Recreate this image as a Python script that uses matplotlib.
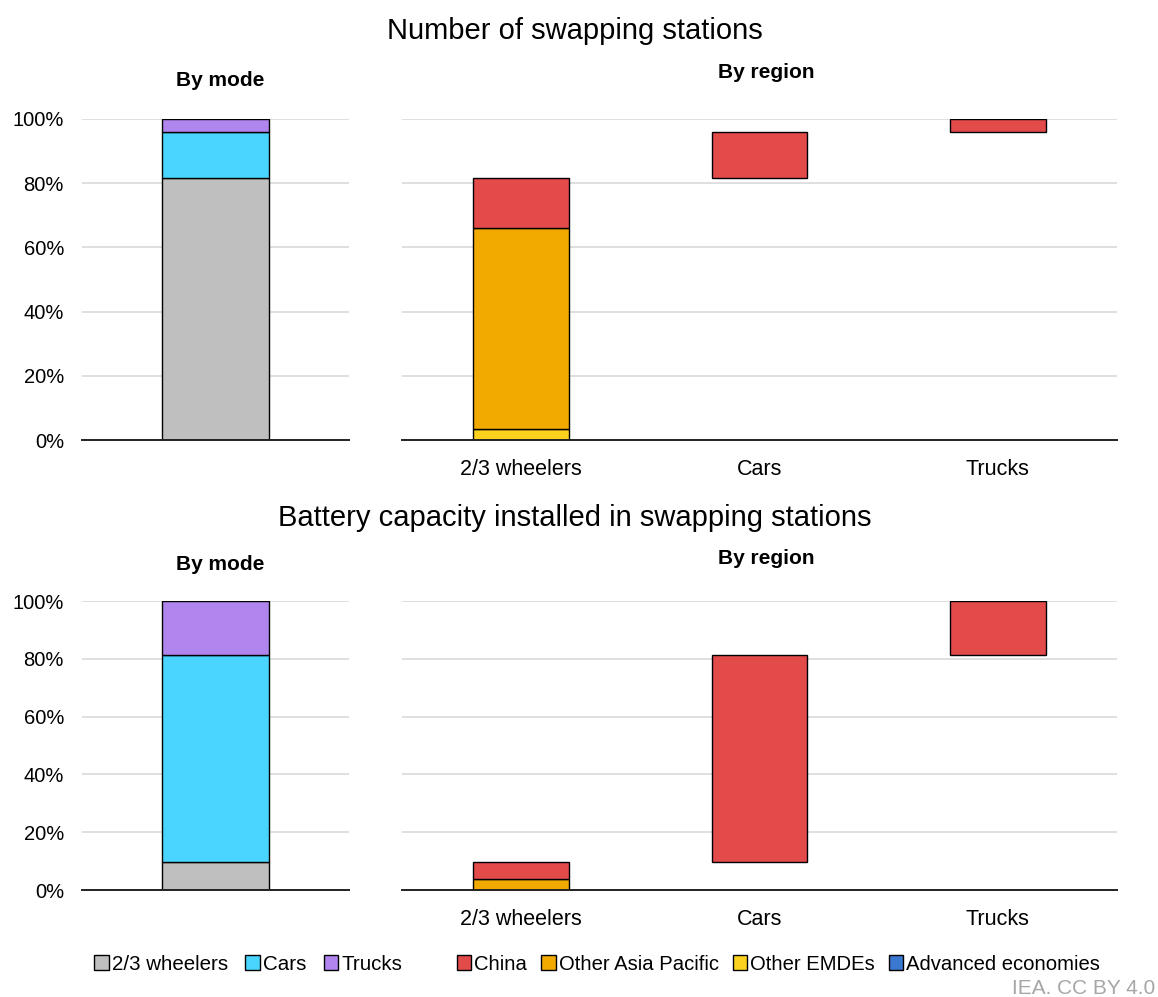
import numpy as np
import matplotlib.pyplot as plt
from matplotlib.patches import Patch
from matplotlib.ticker import PercentFormatter

plt.rcParams['font.family'] = ['Liberation Sans', 'DejaVu Sans']

# Data (shares in %)
modes = ["2/3 wheelers", "Cars", "Trucks"]
regions = ["Advanced economies", "Other EMDEs", "Other Asia Pacific", "China"]

stations_mode = [81.6, 14.5, 3.9]
stations_adv = [0.0, 0.0, 0.0]
stations_emde = [3.3, 0.0, 0.0]
stations_oap = [62.7, 0.0, 0.0]
stations_china = [15.6, 14.5, 3.9]

capacity_mode = [9.7, 71.6, 18.7]
capacity_adv = [0.0, 0.0, 0.0]
capacity_emde = [0.0, 0.0, 0.0]
capacity_oap = [3.7, 0.0, 0.0]
capacity_china = [6.0, 71.6, 18.7]

mode_colors = ["#BFBFBF", "#49D5FF", "#B185EE"]
region_colors = ["#3B78D0", "#FCD21E", "#F2A900", "#E34A4A"]

fig = plt.figure(figsize=(11.58, 9.97), dpi=100)
W, H = 1158, 997


def axes_px(x0, x1, ytop, ybot):
    return fig.add_axes([x0 / W, 1 - ybot / H, (x1 - x0) / W, (ybot - ytop) / H])


def style(ax, show_y):
    ax.set_ylim(0, 100)
    ax.set_yticks(np.arange(0, 101, 20))
    ax.yaxis.set_major_formatter(PercentFormatter(decimals=0))
    ax.grid(axis="y", color="#D9D9D9", linewidth=1.2)
    ax.set_axisbelow(True)
    for s in ["top", "right", "left"]:
        ax.spines[s].set_visible(False)
    ax.spines["bottom"].set_color("#222222")
    ax.spines["bottom"].set_linewidth(1.4)
    ax.tick_params(axis="y", length=0, labelsize=14.5, pad=13)
    ax.tick_params(axis="x", length=0, labelsize=15.5, pad=14)
    if not show_y:
        ax.tick_params(labelleft=False)


def draw_row(ytop, ybot, mode_vals, reg_series, title, title_y, bymode_y, byregion_y):
    axl = axes_px(82, 349, ytop, ybot)
    axr = axes_px(402, 1117, ytop, ybot)
    bottom = 0
    for v, c in zip(mode_vals, mode_colors):
        axl.bar(0, v, bottom=bottom, width=0.8, color=c, edgecolor="black", linewidth=1)
        bottom += v
    axl.set_xlim(-1, 1)
    axl.set_xticks([])
    style(axl, True)

    x = np.arange(len(modes))
    base = np.concatenate([[0], np.cumsum(mode_vals)[:-1]])
    for vals, c in zip(reg_series, region_colors):
        vals = np.array(vals)
        mask = vals > 0
        axr.bar(x[mask], vals[mask], bottom=base[mask], width=0.4, color=c,
                edgecolor="black", linewidth=1)
        base = base + vals
    axr.set_xlim(-0.5, 2.5)
    axr.set_xticks(x)
    axr.set_xticklabels(modes)
    style(axr, False)

    fig.text(575 / W, 1 - title_y / H, title, ha="center", va="center", fontsize=21)
    fig.text(220 / W, 1 - bymode_y / H, "By mode", ha="center", va="center",
             fontsize=15, fontweight="bold")
    fig.text(766 / W, 1 - byregion_y / H, "By region", ha="center", va="center",
             fontsize=15, fontweight="bold")


draw_row(119, 440, stations_mode,
         [stations_adv, stations_emde, stations_oap, stations_china],
         "Number of swapping stations", 31, 80, 72)
draw_row(601, 890, capacity_mode,
         [capacity_adv, capacity_emde, capacity_oap, capacity_china],
         "Battery capacity installed in swapping stations", 518, 565, 558)

mode_handles = [Patch(facecolor=c, edgecolor="black", label=m) for m, c in zip(modes, mode_colors)]
reg_handles = [Patch(facecolor=c, edgecolor="black", label=r)
               for r, c in zip(regions[::-1], region_colors[::-1])]
leg_kw = dict(ncol=4, frameon=False, handlelength=0.7, handleheight=0.7,
              handletextpad=0.15, borderaxespad=0)
fig.legend(handles=mode_handles, loc="center left", bbox_to_anchor=(86 / W, 1 - 964 / H),
           fontsize=14.8, columnspacing=0.85, **leg_kw)
fig.legend(handles=reg_handles, loc="center left", bbox_to_anchor=(449 / W, 1 - 964 / H),
           fontsize=14.6, columnspacing=0.7, **leg_kw)

fig.text(1155 / W, 1 - 988 / H, "IEA. CC BY 4.0", ha="right", va="center",
         fontsize=15, color="#A6A6A6")

fig.savefig("out.png", dpi=100)
